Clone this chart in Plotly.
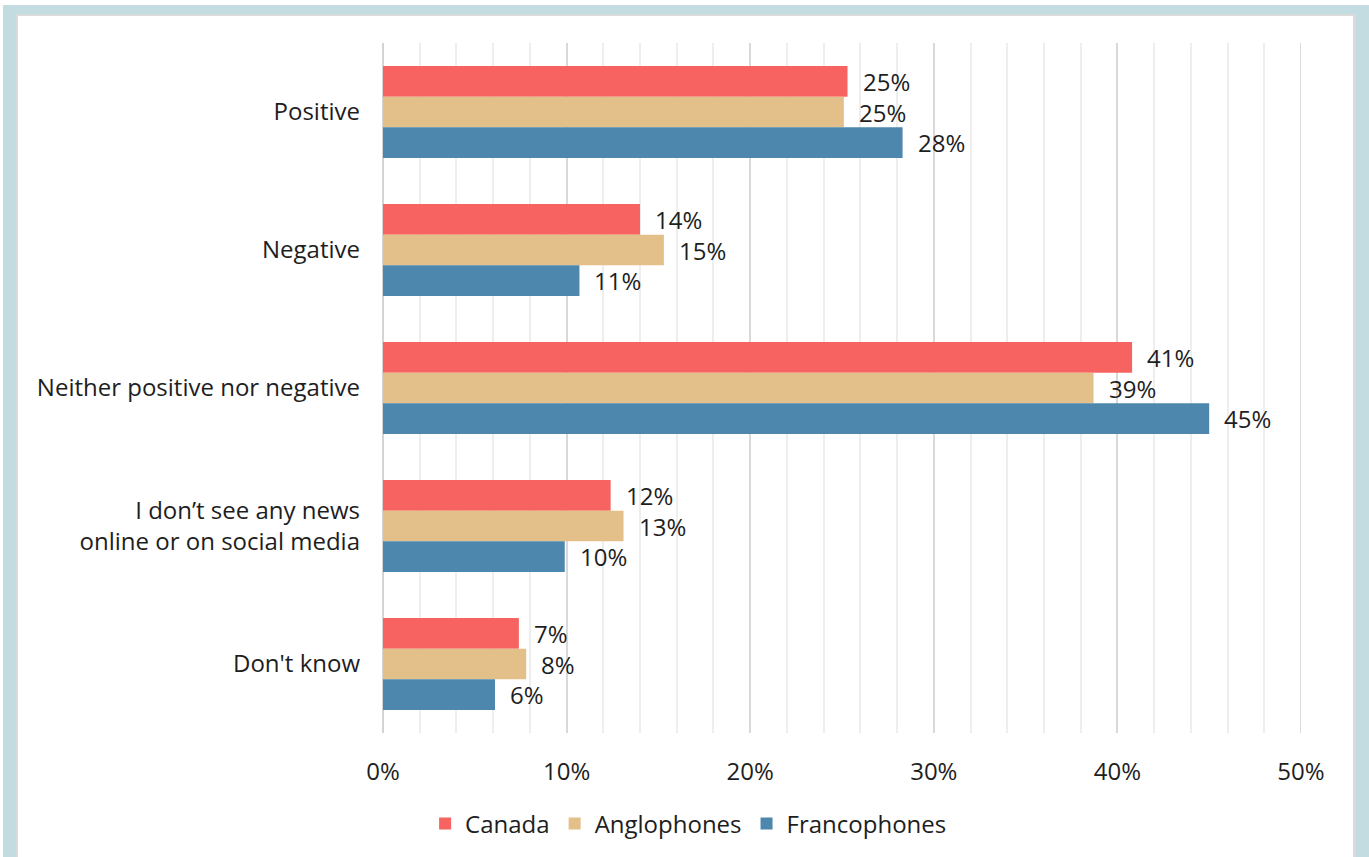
import plotly.graph_objects as go

# Survey responses, share of respondents (%)
categories = [
    "Positive",
    "Negative",
    "Neither positive nor negative",
    "I don’t see any news<br>online or on social media",
    "Don't know",
]
canada = [25.3, 14.0, 40.8, 12.4, 7.4]
anglophones = [25.1, 15.3, 38.7, 13.1, 7.8]
francophones = [28.3, 10.7, 45.0, 9.9, 6.1]

series = [
    ("Canada", canada, "#f66361"),
    ("Anglophones", anglophones, "#e3c08a"),
    ("Francophones", francophones, "#4e87ad"),
]

x_ticks = [0, 10, 20, 30, 40, 50]
x_tick_labels = ["0%", "10%", "20%", "30%", "40%", "50%"]

FONT = "Open Sans"
TEXT = "#1e1e1e"
FS = 24
BARGAP = 0.334
GRID = "#d9d9d9"

W, H = 1369, 857
L, R, T, B = 383, 68, 43, 124

fig = go.Figure()
for name, vals, color in series:
    fig.add_trace(go.Bar(
        name=name, y=categories, x=vals, orientation="h",
        marker=dict(color=color, line=dict(width=0)),
        hoverinfo="skip",
    ))

# value labels just past the end of each bar
bw = (1 - BARGAP) / len(series)
annotations = []
for k, (name, vals, color) in enumerate(series):
    off = (k - (len(series) - 1) / 2) * bw
    for i, v in enumerate(vals):
        annotations.append(dict(
            x=v, y=i + off, xref="x", yref="y",
            text=f"{v:.0f}%", showarrow=False,
            xanchor="left", yanchor="middle", xshift=13,
            font=dict(family=FONT, size=FS, color=TEXT),
        ))

# page frame: light blue band with a thin grey inner edge
pw = W - L - R
ph = H - T - B


def px_x(p):
    return (p - L) / pw


def px_y(p):
    return (H - B - p) / ph


shapes = [
    dict(type="rect", xref="paper", yref="paper", layer="below",
         x0=px_x(3), x1=px_x(W + 20), y0=px_y(5), y1=px_y(H + 20),
         fillcolor="#c2dce1", line=dict(width=0)),
    dict(type="rect", xref="paper", yref="paper", layer="below",
         x0=px_x(16), x1=px_x(1356), y0=px_y(14), y1=px_y(H + 20),
         fillcolor="#dadada", line=dict(width=0)),
    dict(type="rect", xref="paper", yref="paper", layer="below",
         x0=px_x(18), x1=px_x(1353), y0=px_y(16), y1=px_y(H + 20),
         fillcolor="#ffffff", line=dict(width=0)),
    # closing gridline at the top of the axis range
    dict(type="line", xref="x", yref="paper", layer="below",
         x0=x_ticks[-1], x1=x_ticks[-1], y0=0, y1=1,
         line=dict(color=GRID, width=2)),
]

fig.update_layout(
    width=W, height=H,
    margin=dict(l=L, r=R, t=T, b=B, autoexpand=False),
    paper_bgcolor="#ffffff",
    plot_bgcolor="rgba(0,0,0,0)",
    barmode="group",
    bargap=BARGAP,
    bargroupgap=0,
    font=dict(family=FONT, size=FS, color=TEXT),
    showlegend=True,
    legend=dict(
        orientation="h", xref="container", yref="container",
        x=0.503, xanchor="center", y=(H - 824) / H, yanchor="middle",
        font=dict(family=FONT, size=FS, color=TEXT),
        itemwidth=30, traceorder="normal",
    ),
    xaxis=dict(
        range=[0, 50], tickvals=x_ticks, ticktext=x_tick_labels,
        showgrid=True, gridcolor=GRID, gridwidth=2,
        minor=dict(dtick=2, showgrid=True, gridcolor="#eeeeee", gridwidth=1.5),
        zeroline=True, zerolinecolor="#d4d4d4", zerolinewidth=2,
        showline=False, ticks="", ticklabelstandoff=22,
        tickfont=dict(family=FONT, size=FS, color=TEXT),
        fixedrange=True,
    ),
    yaxis=dict(
        type="category", categoryorder="array", categoryarray=categories,
        range=[len(categories) - 0.5, -0.5],
        showgrid=False, zeroline=False, showline=False, ticks="",
        ticklabelstandoff=22,
        tickfont=dict(family=FONT, size=FS, color=TEXT),
        fixedrange=True,
    ),
    annotations=annotations,
    shapes=shapes,
)

fig.write_html("out.html")
